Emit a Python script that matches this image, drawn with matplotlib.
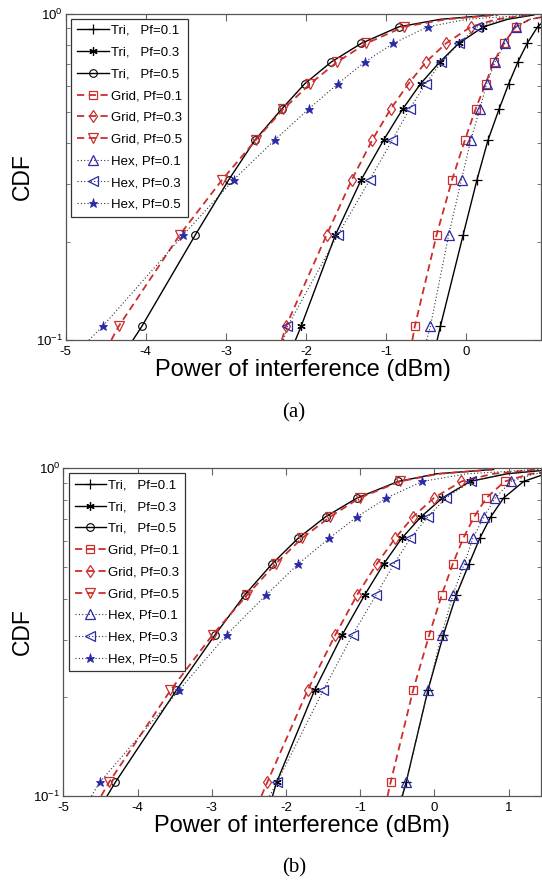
import matplotlib
matplotlib.use("Agg")
import matplotlib.pyplot as plt
from matplotlib.ticker import LogLocator, NullFormatter, FixedLocator

plt.rcParams['font.family'] = ['Liberation Sans', 'DejaVu Sans']
plt.rcParams['axes.unicode_minus'] = False

# CDF levels at which curve points were read (first = bottom edge, last two = near top)
cdf_levels = [0.10, 0.11, 0.21, 0.31, 0.41, 0.51, 0.61, 0.71, 0.81, 0.91, 0.96, 0.99]

labels = ["Tri,   Pf=0.1", "Tri,   Pf=0.3", "Tri,   Pf=0.5",
          "Grid, Pf=0.1", "Grid, Pf=0.3", "Grid, Pf=0.5",
          "Hex, Pf=0.1", "Hex, Pf=0.3", "Hex, Pf=0.5"]

# Panel (a): power of interference (dBm) at each CDF level
a_tri_01 = [-0.36, -0.32, -0.035, 0.138, 0.276, 0.414, 0.535, 0.648, 0.764, 0.894, 1.00, 1.20]
a_tri_03 = [-2.13, -2.06, -1.63, -1.308, -1.028, -0.79, -0.566, -0.328, -0.091, 0.216, 0.52, 0.85]
a_tri_05 = [-4.16, -4.05, -3.38, -2.962, -2.634, -2.301, -2.012, -1.684, -1.308, -0.84, -0.32, 0.34]
a_grid_01 = [-0.67, -0.64, -0.367, -0.173, -0.013, 0.12, 0.246, 0.345, 0.475, 0.62, 0.80, 1.10]
a_grid_03 = [-2.30, -2.25, -1.74, -1.425, -1.17, -0.941, -0.717, -0.501, -0.25, 0.06, 0.38, 0.80]
a_grid_05 = [-4.43, -4.34, -3.575, -3.044, -2.625, -2.28, -1.943, -1.611, -1.244, -0.78, -0.25, 0.40]
a_hex_01 = [-0.49, -0.445, -0.216, -0.056, 0.06, 0.173, 0.259, 0.363, 0.484, 0.62, 0.80, 1.10]
a_hex_03 = [-2.28, -2.23, -1.60, -1.20, -0.92, -0.704, -0.501, -0.307, -0.087, 0.14, 0.45, 0.85]
a_hex_05 = [-4.71, -4.54, -3.53, -2.90, -2.388, -1.965, -1.598, -1.265, -0.907, -0.48, 0.01, 0.80]

# Panel (b)
b_tri_01 = [-0.43, -0.38, -0.086, 0.123, 0.296, 0.468, 0.612, 0.761, 0.934, 1.204, 1.50, 2.00]
b_tri_03 = [-2.18, -2.126, -1.614, -1.241, -0.939, -0.682, -0.44, -0.179, 0.109, 0.482, 0.98, 1.60]
b_tri_05 = [-4.41, -4.30, -3.477, -2.955, -2.555, -2.187, -1.837, -1.465, -1.041, -0.487, 0.03, 0.80]
b_grid_01 = [-0.63, -0.589, -0.286, -0.068, 0.10, 0.249, 0.389, 0.538, 0.701, 0.948, 1.30, 1.90]
b_grid_03 = [-2.33, -2.252, -1.707, -1.334, -1.041, -0.776, -0.529, -0.286, -0.007, 0.366, 0.79, 1.40]
b_grid_05 = [-4.49, -4.385, -3.556, -2.988, -2.522, -2.14, -1.786, -1.404, -1.008, -0.463, 0.06, 0.80]
b_hex_01 = [-0.44, -0.38, -0.086, 0.10, 0.249, 0.403, 0.519, 0.668, 0.822, 1.032, 1.35, 1.90]
b_hex_03 = [-2.22, -2.12, -1.497, -1.102, -0.785, -0.543, -0.324, -0.086, 0.156, 0.49, 0.95, 1.60]
b_hex_05 = [-4.62, -4.51, -3.44, -2.80, -2.266, -1.833, -1.418, -1.041, -0.645, -0.161, 0.44, 1.42]

panel_a = [a_tri_01, a_tri_03, a_tri_05, a_grid_01, a_grid_03, a_grid_05, a_hex_01, a_hex_03, a_hex_05]
panel_b = [b_tri_01, b_tri_03, b_tri_05, b_grid_01, b_grid_03, b_grid_05, b_hex_01, b_hex_03, b_hex_05]

xticks_a = [-5, -4, -3, -2, -1, 0]
xticks_b = [-5, -4, -3, -2, -1, 0, 1]

RED = '#cc2e2e'
BLUE = '#2a2aa8'
asterisk = (6, 2, 0)
styles = [
    dict(color='k', ls='-', lw=1.0, marker='+', ms=7, mec='k', mfc='none', mew=0.9),
    dict(color='k', ls='-', lw=1.0, marker=asterisk, ms=6, mec='k', mfc='none', mew=0.9),
    dict(color='k', ls='-', lw=1.0, marker='o', ms=5.5, mec='k', mfc='none', mew=0.8),
    dict(color=RED, ls=(0, (4, 2.5)), lw=1.3, marker='s', ms=5.5, mec=RED, mfc='none', mew=0.9),
    dict(color=RED, ls=(0, (4, 2.5)), lw=1.3, marker='d', ms=6, mec=RED, mfc='none', mew=0.9),
    dict(color=RED, ls=(0, (4, 2.5)), lw=1.3, marker='v', ms=6.5, mec=RED, mfc='none', mew=0.9),
    dict(color='#333333', ls=(0, (1, 2)), lw=0.8, marker='^', ms=6.5, mec=BLUE, mfc='none', mew=0.9),
    dict(color='#333333', ls=(0, (1, 2)), lw=0.8, marker='<', ms=6.5, mec=BLUE, mfc='none', mew=0.9),
    dict(color='#333333', ls=(0, (1, 2)), lw=0.8, marker='*', ms=6.5, mec=BLUE, mfc=BLUE, mew=0.6),
]

W, H = 542, 884
fig = plt.figure(figsize=(W / 100, H / 100), dpi=100)

def make_axes(left, right, top, bottom):
    return fig.add_axes([left / W, 1 - bottom / H, (right - left) / W, (bottom - top) / H])

ax_a = make_axes(65.7, 541, 13.5, 340)
ax_b = make_axes(63.3, 541, 468, 796)

def setup(ax, data, xmax, xticks, caption, cap_y):
    for series, lab, st in zip(data, labels, styles):
        ax.plot(series, cdf_levels, label=lab, markevery=slice(1, 10), **st)
    ax.set_yscale('log')
    ax.set_ylim(0.1, 1.0)
    ax.set_xlim(-5, xmax)
    ax.xaxis.set_major_locator(FixedLocator(xticks))
    ax.yaxis.set_major_locator(LogLocator(base=10, numticks=5))
    ax.yaxis.set_minor_locator(LogLocator(base=10, subs=[2, 3, 4, 5, 6, 7, 8, 9], numticks=10))
    ax.yaxis.set_minor_formatter(NullFormatter())
    ax.tick_params(which='both', direction='in', top=True, right=True, labelsize=9.5,
                   color='#666666')
    ax.tick_params(axis='x', pad=4)
    ax.tick_params(axis='y', pad=2)
    ax.tick_params(which='major', length=5)
    ax.tick_params(which='minor', length=3)
    for sp in ax.spines.values():
        sp.set_color('#555555')
        sp.set_linewidth(0.9)
    ax.set_xlabel('Power of interference (dBm)', fontsize=17, labelpad=1)
    ax.set_ylabel('CDF', fontsize=16.5)
    bbox = ax.get_position()
    ax.yaxis.set_label_coords((34 - bbox.x0 * W) / (bbox.width * W), 0.5)
    leg = ax.legend(loc='upper left', fontsize=9.5, handlelength=2.4, handletextpad=0.15,
                    labelspacing=0.72, borderpad=0.45, borderaxespad=0.4,
                    fancybox=False, framealpha=1, edgecolor='#333333')
    leg.get_frame().set_linewidth(0.9)
    fig.text(0.542, cap_y, caption, ha='center', va='center', fontsize=15,
             family=['Liberation Serif', 'DejaVu Serif'])

setup(ax_a, panel_a, 0.937, xticks_a, '(a)', 1 - 413 / H)
setup(ax_b, panel_b, 1.438, xticks_b, '(b)', 1 - 868 / H)

fig.savefig('out.png', dpi=100)
